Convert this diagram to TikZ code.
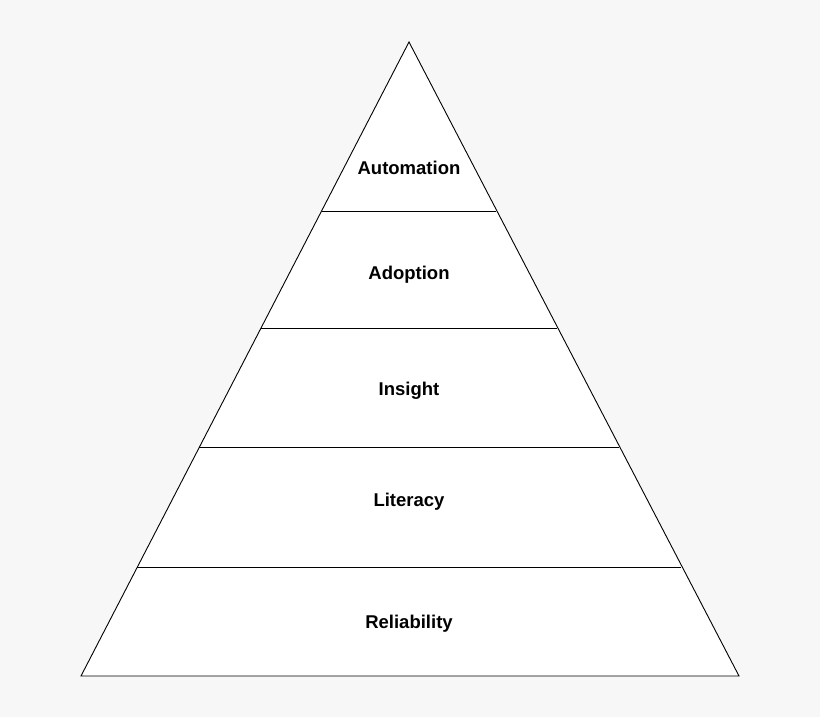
\documentclass[tikz,border=0pt]{standalone}
\usepackage{fontspec}
\setmainfont{Liberation Sans}
\definecolor{bg}{HTML}{F7F7F7}
\begin{document}
\begin{tikzpicture}[x=1pt,y=-1pt,
  lbl/.style={font=\bfseries\fontsize{18.5}{22}\selectfont,inner sep=0pt},
  edge/.style={draw=black,line width=0.9pt}]
\fill[bg] (0,0) rectangle (820,717);
\useasboundingbox (0,0) rectangle (820,717);
\coordinate (apex) at (409,42);
\coordinate (bl) at (81,676);
\coordinate (br) at (739,676);
\filldraw[fill=white,edge,line join=miter] (apex) -- (bl) -- (br) -- cycle;
\foreach \py/\n in {211/a,328/b,447/c,567/d}{
  \pgfmathsetmacro{\dx}{(\py-42)*0.51735}
  \coordinate (l\n) at ({409-\dx},\py);
  \coordinate (r\n) at ({409+\dx},\py);
  \draw[edge] (l\n) -- (r\n);
}
\node[lbl] (automation) at (409,168) {Automation};
\node[lbl] (adoption) at (409,275) {Adoption};
\node[lbl] (insight) at (409,391) {Insight};
\node[lbl] (literacy) at (409,502) {Literacy};
\node[lbl] (reliability) at (409,624) {Reliability};
\end{tikzpicture}
\end{document}
